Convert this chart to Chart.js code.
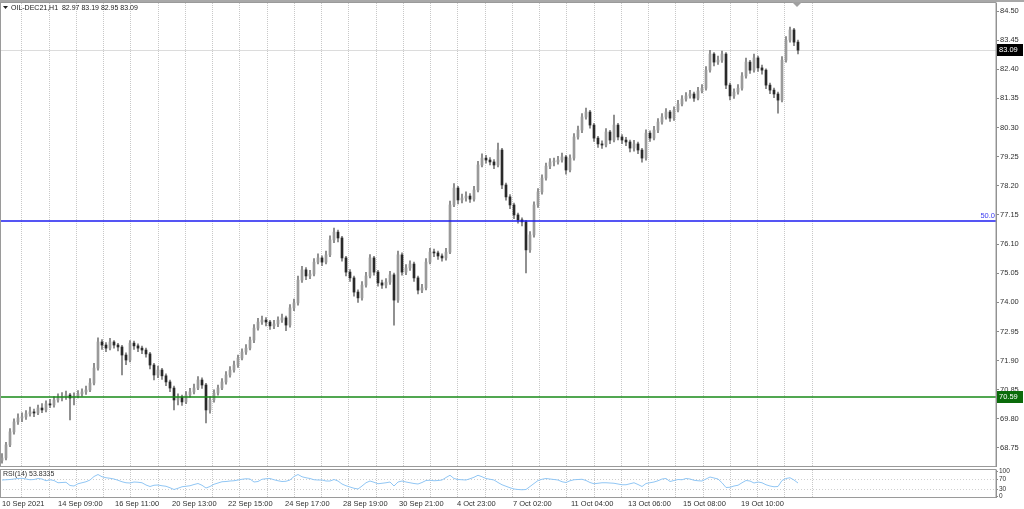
<!DOCTYPE html>
<html>
<head>
<meta charset="utf-8">
<script src="https://cdn.jsdelivr.net/npm/chart.js@4.4.1/dist/chart.umd.min.js"></script>
<style>
    html, body { margin: 0; padding: 0; background: #fff; }
    #wrap { position: relative; width: 1024px; height: 509px; overflow: hidden; }
    canvas { position: absolute; left: 0; }
    #mainChart { top: 0; }
    #rsiChart { top: 468px; }
</style>
</head>
<body>
<div id="wrap">
    <canvas id="mainChart" width="1024" height="468"></canvas>
    <canvas id="rsiChart" width="1024" height="41"></canvas>
</div>
<script>
// OIL-DEC21 H1, compressed to 200 candles
const opens = [68.30,68.39,68.86,69.33,69.69,69.83,69.87,69.98,70.05,70.01,70.19,70.12,70.34,70.30,70.48,70.55,70.59,70.66,70.55,70.62,
    70.70,70.77,70.84,71.09,71.63,72.57,72.46,72.35,72.57,72.46,72.39,72.10,71.92,72.53,72.43,72.35,72.28,72.14,71.74,71.38,
    71.56,71.35,71.13,70.91,70.48,70.59,70.41,70.66,70.77,70.91,71.20,71.02,70.12,70.48,70.73,70.91,71.13,71.38,71.56,71.74,
    71.99,72.21,72.35,72.64,73.07,73.29,73.36,73.29,73.15,73.22,73.36,73.44,73.18,73.80,73.98,74.80,75.17,74.95,75.02,75.45,
    75.60,75.45,75.71,76.25,76.53,76.32,75.60,75.09,74.88,74.37,74.16,74.62,74.95,75.60,75.09,74.70,74.62,74.73,74.99,74.08,
    75.71,75.09,75.24,75.38,74.88,74.44,74.52,75.45,75.81,75.78,75.67,75.60,75.81,77.51,78.12,77.69,77.76,77.83,77.72,78.05,
    78.95,79.20,79.13,79.06,78.95,79.49,78.23,77.80,77.51,77.15,76.97,76.90,75.89,76.43,77.51,77.98,78.48,78.91,79.06,79.06,
    79.13,79.24,78.77,79.20,79.96,80.21,80.68,80.86,80.39,79.92,79.71,79.67,80.14,79.85,80.39,79.96,79.85,79.78,79.56,79.71,
    79.49,79.20,80.10,79.92,80.21,80.50,80.68,80.86,80.64,80.93,81.15,81.33,81.44,81.51,81.36,81.62,81.72,82.37,82.95,82.66,
    82.73,82.95,81.83,81.44,81.58,81.72,82.16,82.66,82.37,82.81,82.45,82.37,81.83,81.65,81.51,81.29,82.73,83.45,83.82,83.38];
const highs = [68.55,68.95,69.45,69.80,69.98,70.02,70.10,70.22,70.15,70.30,70.35,70.45,70.50,70.60,70.70,70.75,70.80,70.72,70.74,70.82,
    70.88,70.98,71.25,71.80,72.72,72.66,72.55,72.70,72.62,72.52,72.45,72.18,72.62,72.60,72.50,72.42,72.35,72.20,71.80,71.70,
    71.62,71.42,71.20,70.98,70.70,70.66,70.78,70.90,71.05,71.32,71.28,71.08,70.60,70.85,71.02,71.25,71.50,71.68,71.88,72.10,
    72.32,72.48,72.75,73.20,73.42,73.50,73.45,73.35,73.35,73.48,73.58,73.50,73.92,74.12,74.95,75.30,75.25,75.15,75.58,75.75,
    75.68,75.85,76.40,76.68,76.60,76.38,75.66,75.18,74.95,74.45,74.75,75.08,75.72,75.66,75.15,74.80,74.86,75.12,75.05,75.85,
    75.78,75.36,75.50,75.45,74.95,74.65,75.58,75.95,75.92,75.85,75.75,75.95,77.65,78.28,78.18,77.90,77.98,77.92,78.18,79.08,
    79.35,79.30,79.22,79.15,79.74,79.55,78.30,77.88,77.58,77.22,77.05,76.96,76.55,77.62,78.10,78.60,79.02,79.18,79.20,79.26,
    79.38,79.30,79.32,80.08,80.35,80.80,81.00,80.92,80.45,79.98,79.82,80.26,80.20,80.75,80.45,80.05,79.95,79.85,79.84,79.78,
    79.55,80.22,80.18,80.34,80.62,80.80,80.98,80.92,81.05,81.28,81.45,81.56,81.64,81.58,81.75,81.85,82.50,83.08,83.00,82.88,
    83.06,83.00,81.90,81.70,81.85,82.28,82.80,82.72,82.95,82.88,82.55,82.42,81.90,81.72,81.58,82.86,83.58,83.92,83.88,83.45];
const lows = [68.20,68.32,68.80,69.25,69.60,69.70,69.78,69.90,69.88,69.95,70.02,70.05,70.20,70.22,70.40,70.45,70.50,69.76,70.30,70.55,
    70.62,70.68,70.78,71.02,71.55,72.30,72.22,72.28,72.35,72.25,71.38,71.75,71.85,72.30,72.22,72.15,72.02,71.60,71.20,71.28,
    71.22,71.00,70.78,70.12,70.30,70.28,70.35,70.58,70.70,70.85,70.90,69.65,70.00,70.40,70.65,70.85,71.05,71.30,71.48,71.65,
    71.92,72.12,72.28,72.55,73.00,73.20,73.15,73.02,73.05,73.12,73.28,72.98,73.10,73.70,73.90,74.72,74.82,74.85,74.95,75.38,
    75.32,75.38,75.65,76.15,76.18,75.48,74.95,74.75,74.22,74.00,74.08,74.55,74.88,74.98,74.58,74.50,74.52,74.65,73.18,74.00,
    74.98,75.00,75.15,74.75,74.30,74.35,74.45,75.38,75.65,75.55,75.48,75.52,75.75,77.45,77.55,77.58,77.65,77.60,77.65,77.98,
    78.88,79.02,78.95,78.82,78.88,78.10,77.68,77.38,77.02,76.85,76.75,75.06,75.80,76.35,77.42,77.90,78.40,78.82,78.92,78.98,
    79.05,78.62,78.70,79.12,79.88,80.12,80.60,80.28,79.80,79.58,79.55,79.60,79.72,79.78,79.85,79.72,79.65,79.42,79.45,79.36,
    79.05,79.12,79.80,79.85,80.12,80.42,80.60,80.52,80.56,80.86,81.08,81.25,81.36,81.24,81.30,81.55,81.65,82.30,82.52,82.58,
    82.65,81.70,81.30,81.35,81.50,81.65,82.08,82.25,82.30,82.32,82.22,81.70,81.52,81.38,80.82,81.22,82.66,83.38,83.25,82.95];
const closes = [68.39,68.86,69.33,69.69,69.83,69.87,69.98,70.05,70.01,70.19,70.12,70.34,70.30,70.48,70.55,70.59,70.66,70.55,70.62,70.70,
    70.77,70.84,71.09,71.63,72.57,72.46,72.35,72.57,72.46,72.39,72.10,71.92,72.53,72.43,72.35,72.28,72.14,71.74,71.38,71.56,
    71.35,71.13,70.91,70.48,70.59,70.41,70.66,70.77,70.91,71.20,71.02,70.12,70.48,70.73,70.91,71.13,71.38,71.56,71.74,71.99,
    72.21,72.35,72.64,73.07,73.29,73.36,73.29,73.15,73.22,73.36,73.44,73.18,73.80,73.98,74.80,75.17,74.95,75.02,75.45,75.60,
    75.45,75.71,76.25,76.53,76.32,75.60,75.09,74.88,74.37,74.16,74.62,74.95,75.60,75.09,74.70,74.62,74.73,74.99,74.08,75.71,
    75.09,75.24,75.38,74.88,74.44,74.52,75.45,75.81,75.78,75.67,75.60,75.81,77.51,78.12,77.69,77.76,77.83,77.72,78.05,78.95,
    79.20,79.13,79.06,78.95,79.49,78.23,77.80,77.51,77.15,76.97,76.90,75.89,76.43,77.51,77.98,78.48,78.91,79.06,79.06,79.13,
    79.24,78.77,79.20,79.96,80.21,80.68,80.86,80.39,79.92,79.71,79.67,80.14,79.85,80.39,79.96,79.85,79.78,79.56,79.71,79.49,
    79.20,80.10,79.92,80.21,80.50,80.68,80.86,80.64,80.93,81.15,81.33,81.44,81.51,81.36,81.62,81.72,82.37,82.95,82.66,82.73,
    82.95,81.83,81.44,81.58,81.72,82.16,82.66,82.37,82.81,82.45,82.37,81.83,81.65,81.51,81.29,82.73,83.45,83.82,83.38,83.09];
const rsiValues = [66,67,68,70,72,73,70,67,68,72,70,63,67,64,55,56,57,44,42,51,
    55,59,66,80,88,79,75,73,70,65,59,55,54,58,57,55,46,40,45,46,
    43,41,35,28,33,39,41,43,48,52,45,34,40,49,54,59,60,62,63,66,
    69,71,70,58,60,69,71,72,67,63,60,61,66,80,88,79,75,72,67,66,
    66,62,62,68,62,50,43,38,33,30,42,55,62,57,51,53,55,58,42,58,
    62,58,55,52,50,56,64,65,63,64,66,76,85,72,68,67,66,71,77,85,
    79,72,69,66,56,47,41,35,30,28,27,28,40,52,64,69,72,70,68,66,
    59,56,63,67,68,69,64,56,51,53,55,55,54,53,50,47,47,51,55,48,
    40,52,55,58,63,70,72,60,64,68,67,72,70,65,63,62,70,78,74,70,
    55,36,37,42,45,55,64,62,54,58,55,47,42,39,40,64,72,75,66,54];

const priceTicks = [68.75, 69.80, 70.85, 71.90, 72.95, 74.00, 75.05, 76.10, 77.15, 78.20, 79.25, 80.30, 81.35, 82.40, 83.45, 84.50];
const rsiTicks = [0, 30, 70, 100];
const gridTicks = [4.9, 11.75, 18.55, 25.4, 32.2, 39, 45.8, 52.6, 59.4, 66.25, 73.05, 79.9, 86.7, 93.5, 100.3,
    107.1, 113.9, 120.75, 127.55, 134.4, 141.2, 148, 154.8, 161.6, 168.4, 175.25, 182.05, 188.9, 195.7, 202.5];
const timeLabels = ['10 Sep 2021', '14 Sep 09:00', '16 Sep 11:00', '20 Sep 13:00', '22 Sep 15:00', '24 Sep 17:00', '28 Sep 19:00',
    '30 Sep 21:00', '4 Oct 23:00', '7 Oct 02:00', '11 Oct 04:00', '13 Oct 06:00', '15 Oct 08:00', '19 Oct 10:00'];
const timeLabelPos = [0, 14, 28.25, 42.5, 56.5, 70.75, 85.25, 99.25, 113.75, 127.75, 142.25, 156.5, 170.25, 184.75];

const symbolTitle = 'OIL-DEC21,H1  82.97 83.19 82.95 83.09';
const lastPrice = 83.09;
const supportLevel = 70.59;
const midLevel = 76.93;
const rsiTitle = 'RSI(14) 53.8335';

const FONT = "'Liberation Sans', Arial, sans-serif";
const SLOTS_MAX = 248.5;

Chart.defaults.font.family = FONT;
Chart.defaults.font.size = 7.5;
Chart.defaults.color = '#303030';

function hline(ctx, x1, x2, y, color, width) {
    ctx.save();
    ctx.strokeStyle = color;
    ctx.lineWidth = width;
    ctx.beginPath();
    ctx.moveTo(x1, y);
    ctx.lineTo(x2, y);
    ctx.stroke();
    ctx.restore();
}

function priceTag(ctx, x, y, text, bg) {
    ctx.save();
    ctx.fillStyle = bg;
    ctx.fillRect(x, Math.round(y) - 6, 26, 12);
    ctx.fillStyle = '#ffffff';
    ctx.font = '7.5px ' + FONT;
    ctx.textBaseline = 'middle';
    ctx.fillText(text, x + 2, Math.round(y));
    ctx.restore();
}

// Chart.js reserves half a label height above/below vertical axes; the frame here must not move
function noPadding(scale) {
    scale.paddingTop = 0;
    scale.paddingBottom = 0;
    scale.paddingLeft = 0;
    scale.paddingRight = 0;
}

const mainOverlay = {
    id: 'mainOverlay',
    beforeDatasetsDraw(chart) {
        const { ctx, chartArea: a, scales: { y } } = chart;
        hline(ctx, a.left, a.right, Math.round(y.getPixelForValue(lastPrice)) + 0.5, '#dcdcdc', 1);
    },
    afterDatasetsDraw(chart) {
        const { ctx, chartArea: a, scales: { y } } = chart;
        const by = y.getPixelForValue(midLevel);
        const gy = y.getPixelForValue(supportLevel);
        hline(ctx, a.left, a.right, by, '#1c1cf0', 1.5);
        hline(ctx, a.left, a.right, gy, '#178a17', 1.5);

        ctx.save();
        ctx.fillStyle = '#3c3cf0';
        ctx.font = '7.5px ' + FONT;
        ctx.textAlign = 'right';
        ctx.textBaseline = 'bottom';
        ctx.fillText('50.0', a.right - 1, by - 1);
        ctx.restore();
    },
    afterDraw(chart) {
        const { ctx, chartArea: a, scales: { y } } = chart;
        ctx.save();
        // frame
        ctx.fillStyle = '#a8a8a8';
        ctx.fillRect(0, 0, chart.width, 2);
        ctx.strokeStyle = '#9a9a9a';
        ctx.lineWidth = 1;
        ctx.strokeRect(a.left + 0.5, a.top - 0.5, a.right - a.left - 0.5, a.bottom - a.top + 1);
        // chart shift marker
        ctx.fillStyle = '#a0a0a0';
        ctx.beginPath();
        ctx.moveTo(792, 2);
        ctx.lineTo(802, 2);
        ctx.lineTo(797, 7);
        ctx.closePath();
        ctx.fill();
        // title
        ctx.fillStyle = '#202020';
        ctx.beginPath();
        ctx.moveTo(3, 6);
        ctx.lineTo(8, 6);
        ctx.lineTo(5.5, 9);
        ctx.closePath();
        ctx.fill();
        ctx.font = '7px ' + FONT;
        ctx.textBaseline = 'middle';
        ctx.fillText(symbolTitle, 11, 8);
        ctx.restore();

        priceTag(ctx, a.right + 1, y.getPixelForValue(lastPrice), lastPrice.toFixed(2), '#000000');
        priceTag(ctx, a.right + 1, y.getPixelForValue(supportLevel), supportLevel.toFixed(2), '#0b6b0b');
    }
};

const rsiOverlay = {
    id: 'rsiOverlay',
    afterDraw(chart) {
        const { ctx, chartArea: a } = chart;
        ctx.save();
        ctx.strokeStyle = '#9a9a9a';
        ctx.lineWidth = 1;
        ctx.strokeRect(a.left + 0.5, a.top - 0.5, a.right - a.left - 0.5, a.bottom - a.top + 1);
        ctx.fillStyle = '#303030';
        ctx.font = '7px ' + FONT;
        ctx.textBaseline = 'middle';
        ctx.fillText(rsiTitle, 3, a.top + 4);
        ctx.restore();
    }
};

function xGridScale() {
    return {
        type: 'linear',
        min: -0.5,
        max: SLOTS_MAX,
        offset: false,
        position: 'bottom',
        afterBuildTicks: scale => { scale.ticks = gridTicks.map(v => ({ value: v })); },
        afterFit: scale => { scale.height = 0; noPadding(scale); },
        ticks: { display: false },
        grid: { color: '#c8c8c8', lineWidth: 1, drawTicks: false, offset: false },
        border: { display: false, dash: [1, 1] }
    };
}

document.addEventListener('DOMContentLoaded', function() {
    const wicks = closes.map((c, i) => ({ x: i, y: [lows[i], highs[i]] }));
    const bodies = closes.map((c, i) => ({ x: i, y: [opens[i], c] }));
    const bodyColors = closes.map((c, i) => c >= opens[i] ? '#9a9a9a' : '#2a2a2a');

    new Chart(document.getElementById('mainChart'), {
        type: 'bar',
        data: {
            datasets: [{
                label: 'wick',
                data: wicks,
                backgroundColor: '#7a7a7a',
                barThickness: 1,
                stack: 'candle',
                order: 2
            }, {
                label: 'body',
                data: bodies,
                backgroundColor: bodyColors,
                barThickness: 2,
                minBarLength: 1,
                stack: 'candle',
                order: 1
            }]
        },
        options: {
            responsive: false,
            animation: false,
            devicePixelRatio: 1,
            layout: { padding: { top: 3, left: 0, right: 0, bottom: 2 } },
            plugins: { legend: { display: false }, tooltip: { enabled: false } },
            scales: {
                x: xGridScale(),
                y: {
                    type: 'linear',
                    position: 'right',
                    stacked: false,
                    min: 68.10,
                    max: 84.79,
                    afterBuildTicks: scale => { scale.ticks = priceTicks.map(v => ({ value: v })); },
                    afterFit: scale => { scale.width = 28; noPadding(scale); },
                    ticks: {
                        padding: 1,
                        color: '#303030',
                        font: { size: 7.5 },
                        callback: v => v.toFixed(2)
                    },
                    grid: { drawOnChartArea: false, tickLength: 3, color: '#8a8a8a' },
                    border: { color: '#8a8a8a' }
                }
            }
        },
        plugins: [mainOverlay]
    });

    new Chart(document.getElementById('rsiChart'), {
        type: 'line',
        data: {
            datasets: [{
                label: 'RSI(14)',
                data: rsiValues.map((v, i) => ({ x: i, y: v })),
                borderColor: '#90c6f4',
                borderWidth: 1,
                pointRadius: 0,
                tension: 0
            }]
        },
        options: {
            responsive: false,
            animation: false,
            devicePixelRatio: 1,
            layout: { padding: { top: 2, left: 0, right: 0, bottom: 0 } },
            plugins: { legend: { display: false }, tooltip: { enabled: false } },
            scales: {
                x: xGridScale(),
                xl: {
                    type: 'linear',
                    min: -0.5,
                    max: SLOTS_MAX,
                    position: 'bottom',
                    afterBuildTicks: scale => { scale.ticks = timeLabelPos.map(v => ({ value: v })); },
                    afterFit: scale => { scale.height = 12; noPadding(scale); },
                    ticks: {
                        align: 'start',
                        autoSkip: false,
                        maxRotation: 0,
                        padding: 2,
                        color: '#303030',
                        font: { size: 7.5 },
                        callback: (v, i) => timeLabels[i]
                    },
                    grid: { display: false, drawTicks: false },
                    border: { display: false }
                },
                y: {
                    type: 'linear',
                    position: 'right',
                    min: -2,
                    max: 106,
                    afterBuildTicks: scale => { scale.ticks = rsiTicks.map(v => ({ value: v })); },
                    afterFit: scale => { scale.width = 28; noPadding(scale); },
                    ticks: {
                        padding: 1,
                        color: '#303030',
                        font: { size: 6.5 },
                        autoSkip: false
                    },
                    grid: {
                        tickLength: 2,
                        color: ctx => (ctx.tick && (ctx.tick.value === 30 || ctx.tick.value === 70)) ? '#cfcfcf' : 'rgba(0,0,0,0)',
                        tickColor: '#8a8a8a'
                    },
                    border: { color: '#8a8a8a', dash: [1, 2] }
                }
            }
        },
        plugins: [rsiOverlay]
    });
});
</script>
</body>
</html>
